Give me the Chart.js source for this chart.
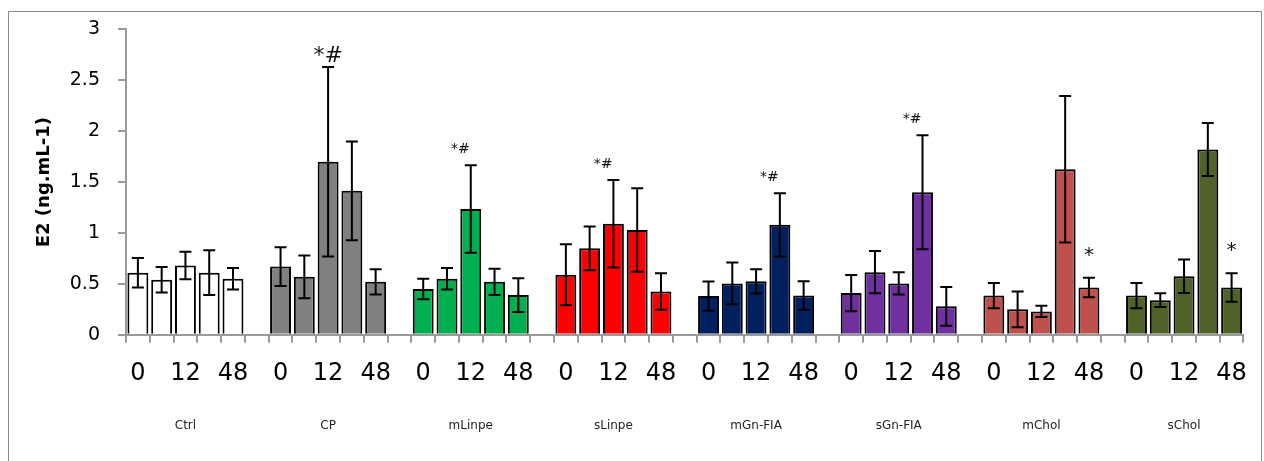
<!DOCTYPE html>
<html>
<head>
<meta charset="utf-8">
<script src="https://cdn.jsdelivr.net/npm/chart.js@4.4.1/dist/chart.umd.min.js"></script>
<style>
    html, body { margin: 0; padding: 0; background: #fff; }
    .wrap { position: relative; width: 1264px; height: 461px; overflow: hidden; }
    .frame {
        position: absolute; left: 8px; top: 11px; width: 1252px; height: 470px;
        border: 1.5px solid #8a8a8a; pointer-events: none;
    }
    canvas { position: absolute; left: 0; top: 0; }
</style>
</head>
<body>
<div class="wrap">
    <canvas id="e2Chart" width="1264" height="461"></canvas>
    <div class="frame"></div>
</div>
<script>
// Grupos y tiempos (h)
const groupNames = ['Ctrl', 'CP', 'mLinpe', 'sLinpe', 'mGn-FIA', 'sGn-FIA', 'mChol', 'sChol'];
const timeLabels = ['0', '', '12', '', '48'];

// E2 media (ng.mL-1) por grupo
const e2Ctrl   = [0.61, 0.54, 0.68, 0.61, 0.55];
const e2CP     = [0.67, 0.57, 1.70, 1.415, 0.52];
const e2mLinpe = [0.45, 0.55, 1.235, 0.52, 0.39];
const e2sLinpe = [0.59, 0.85, 1.09, 1.03, 0.425];
const e2mGn    = [0.38, 0.505, 0.525, 1.08, 0.385];
const e2sGn    = [0.41, 0.615, 0.505, 1.40, 0.28];
const e2mChol  = [0.385, 0.25, 0.23, 1.627, 0.465];
const e2sChol  = [0.385, 0.34, 0.575, 1.82, 0.465];

// Desviación (barras de error)
const sdCtrl   = [0.145, 0.125, 0.135, 0.22, 0.105];
const sdCP     = [0.19, 0.21, 0.93, 0.485, 0.125];
const sdmLinpe = [0.10, 0.105, 0.43, 0.13, 0.165];
const sdsLinpe = [0.30, 0.215, 0.43, 0.41, 0.18];
const sdmGn    = [0.143, 0.205, 0.12, 0.31, 0.14];
const sdsGn    = [0.178, 0.207, 0.11, 0.56, 0.19];
const sdmChol  = [0.123, 0.175, 0.055, 0.72, 0.095];
const sdsChol  = [0.124, 0.068, 0.165, 0.26, 0.14];

// Marcas de significancia
const marks = [
    { group: 1, bar: 2, text: '*#' },
    { group: 2, bar: 2, text: '*#' },
    { group: 3, bar: 2, text: '*#' },
    { group: 4, bar: 3, text: '*#' },
    { group: 5, bar: 3, text: '*#' },
    { group: 6, bar: 4, text: '*' },
    { group: 7, bar: 4, text: '*' }
];

const groupColors = ['#ffffff', '#808080', '#00b050', '#ff0000', '#002060', '#7030a0', '#c0504d', '#4f6228'];

const allMeans = [e2Ctrl, e2CP, e2mLinpe, e2sLinpe, e2mGn, e2sGn, e2mChol, e2sChol];
const allSds = [sdCtrl, sdCP, sdmLinpe, sdsLinpe, sdmGn, sdsGn, sdmChol, sdsChol];

// Construir categorías (5 barras + hueco entre grupos)
let labels = [], values = [], errors = [], colors = [], groupOf = [], slotOf = [];
groupNames.forEach((g, gi) => {
    timeLabels.forEach((t, ti) => {
        labels.push(t);
        values.push(allMeans[gi][ti]);
        errors.push(allSds[gi][ti]);
        colors.push(groupColors[gi]);
        groupOf.push(gi);
        slotOf.push(ti);
    });
    if (gi < groupNames.length - 1) {
        labels.push('');
        values.push(null);
        errors.push(null);
        colors.push('#fff');
        groupOf.push(gi);
        slotOf.push(-1);
    }
});

const axisGray = '#9a9a9a';

// Plugin: barras de error y marcas
const errorBarsPlugin = {
    id: 'errorBars',
    afterDatasetsDraw(chart) {
        const ctx = chart.ctx;
        const y = chart.scales.y;
        const meta = chart.getDatasetMeta(0);
        ctx.save();
        ctx.strokeStyle = '#000';
        ctx.lineWidth = 2;
        meta.data.forEach((bar, i) => {
            if (values[i] === null) return;
            const top = y.getPixelForValue(values[i] + errors[i]);
            const bot = y.getPixelForValue(Math.max(0, values[i] - errors[i]));
            ctx.beginPath();
            ctx.moveTo(bar.x, top); ctx.lineTo(bar.x, bot);
            ctx.moveTo(bar.x - 6, top); ctx.lineTo(bar.x + 6, top);
            ctx.moveTo(bar.x - 6, bot); ctx.lineTo(bar.x + 6, bot);
            ctx.stroke();
        });
        ctx.fillStyle = '#111';
        ctx.textBaseline = 'middle';
        marks.forEach(m => {
            const idx = m.group * 6 + m.bar;
            const bar = meta.data[idx];
            const top = y.getPixelForValue(values[idx] + errors[idx]);
            if (m.text === '*') {
                ctx.font = '20px "DejaVu Sans"';
                ctx.textAlign = 'center';
                ctx.fillText(m.text, bar.x, top - 22);
            } else if (m.group === 1) {
                ctx.font = '22px "DejaVu Sans"';
                ctx.textAlign = 'center';
                ctx.fillText(m.text, bar.x, top - 11);
            } else {
                ctx.font = '14px "DejaVu Sans"';
                ctx.textAlign = 'right';
                ctx.fillText(m.text, bar.x - 1, top - 16);
            }
        });
        ctx.restore();
    }
};

const e2Chart = new Chart(document.getElementById('e2Chart'), {
    type: 'bar',
    data: {
        labels: labels,
        datasets: [{
            label: 'E2',
            data: values,
            backgroundColor: colors,
            borderColor: '#000',
            borderWidth: 2,
            barPercentage: 0.88,
            categoryPercentage: 1.0
        }]
    },
    options: {
        responsive: false,
        animation: false,
        layout: {
            padding: { top: 29, right: 12, bottom: 15, left: 0 }
        },
        plugins: {
            legend: { display: false },
            tooltip: { enabled: false }
        },
        scales: {
            x: {
                offset: true,
                grid: {
                    offset: true,
                    drawOnChartArea: false,
                    color: axisGray,
                    lineWidth: 2,
                    tickLength: 8
                },
                border: { color: axisGray, width: 2 },
                ticks: {
                    autoSkip: false,
                    maxRotation: 0,
                    padding: 17,
                    color: '#000',
                    font: { family: 'DejaVu Sans', size: 24 }
                }
            },
            x2: {
                type: 'category',
                position: 'bottom',
                offset: true,
                grid: { display: false, drawTicks: false },
                border: { display: false },
                ticks: {
                    autoSkip: false,
                    maxRotation: 0,
                    padding: 13,
                    color: '#222',
                    font: { family: 'DejaVu Sans', size: 12 },
                    callback: (value, index) => slotOf[index] === 2 ? groupNames[groupOf[index]] : ''
                }
            },
            y: {
                min: 0,
                max: 3,
                afterFit: (axis) => { axis.width = 126; },
                grid: {
                    drawOnChartArea: false,
                    color: axisGray,
                    lineWidth: 2,
                    tickLength: 8
                },
                border: { color: axisGray, width: 2 },
                ticks: {
                    stepSize: 0.5,
                    padding: 18,
                    color: '#000',
                    font: { family: 'DejaVu Sans', size: 19 },
                    callback: (value) => String(Number(value.toFixed(1)))
                },
                title: {
                    display: true,
                    text: 'E2 (ng.mL-1)',
                    color: '#000',
                    padding: { top: 34, bottom: 0 },
                    font: { family: 'DejaVu Sans', size: 18, weight: 'bold' }
                }
            }
        }
    },
    plugins: [errorBarsPlugin]
});
</script>
</body>
</html>
